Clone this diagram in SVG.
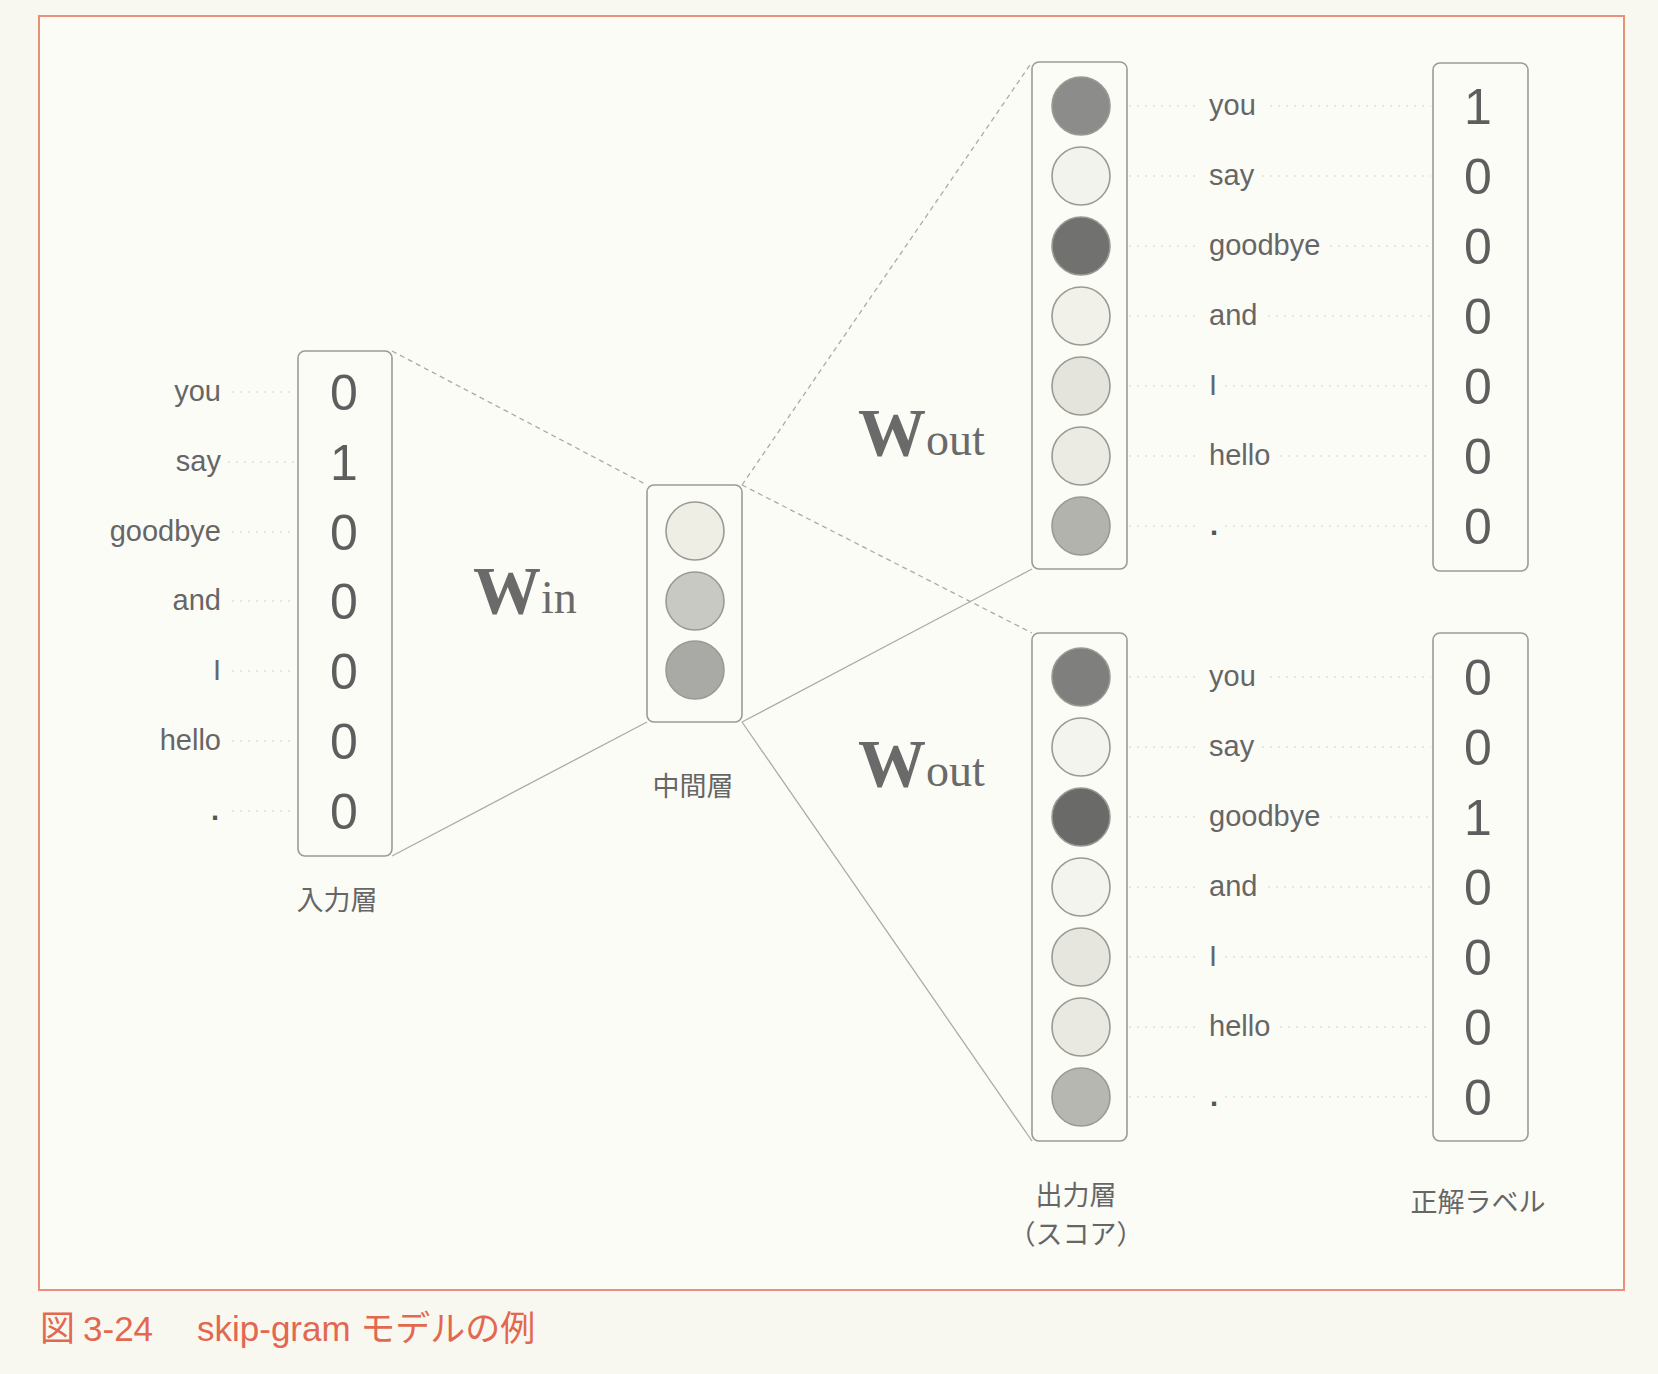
<svg xmlns="http://www.w3.org/2000/svg" width="1658" height="1374" viewBox="0 0 1658 1374">
<style>
.box{fill:none;stroke:#9a9a96;stroke-width:1.6}
.node{stroke:#9a9a94;stroke-width:1.6}
.word{font-family:"Liberation Sans",Arial,sans-serif;font-size:29px;fill:#666}
.wl{text-anchor:end}
.dot{font-weight:bold;fill:#555}
.digit{font-family:"Liberation Sans",Arial,sans-serif;font-size:50px;fill:#5e5e5e;text-anchor:middle}
.jp{font-family:"Noto Sans CJK JP",sans-serif;font-size:27px;fill:#666;text-anchor:middle}
.wbig{font-family:"Liberation Serif",serif;font-weight:bold;font-size:68px;fill:#6a6a6a}
.wsub{font-family:"Liberation Serif",serif;font-size:46px;fill:#6a6a6a}
.lead{stroke:#e0e0d8;stroke-width:1.5;stroke-dasharray:2 6;fill:none}
.conn{stroke:#ababa6;stroke-width:1.3;fill:none}
.dash{stroke-dasharray:5 4}
.cap{font-family:"Liberation Sans","Noto Sans CJK JP",sans-serif;font-size:35px;fill:#e2684f}
</style>
<rect x="0" y="0" width="1658" height="1374" fill="#f8f8f1"/>
<rect x="39" y="16" width="1585" height="1274" fill="#fcfcf7" stroke="#e8907c" stroke-width="2"/>

<g id="leaders">
  <line class="lead" x1="232" y1="392" x2="296" y2="392"/>
  <line class="lead" x1="228" y1="462" x2="296" y2="462"/>
  <line class="lead" x1="232" y1="532" x2="296" y2="532"/>
  <line class="lead" x1="232" y1="601" x2="296" y2="601"/>
  <line class="lead" x1="232" y1="671" x2="296" y2="671"/>
  <line class="lead" x1="232" y1="741" x2="296" y2="741"/>
  <line class="lead" x1="232" y1="811" x2="296" y2="811"/>
  <line class="lead" x1="1129" y1="106" x2="1200" y2="106"/><line class="lead" x1="1270" y1="106" x2="1431" y2="106"/>
  <line class="lead" x1="1129" y1="176" x2="1200" y2="176"/><line class="lead" x1="1262" y1="176" x2="1431" y2="176"/>
  <line class="lead" x1="1129" y1="246" x2="1200" y2="246"/><line class="lead" x1="1330" y1="246" x2="1431" y2="246"/>
  <line class="lead" x1="1129" y1="316" x2="1200" y2="316"/><line class="lead" x1="1268" y1="316" x2="1431" y2="316"/>
  <line class="lead" x1="1129" y1="386" x2="1200" y2="386"/><line class="lead" x1="1225" y1="386" x2="1431" y2="386"/>
  <line class="lead" x1="1129" y1="456" x2="1200" y2="456"/><line class="lead" x1="1280" y1="456" x2="1431" y2="456"/>
  <line class="lead" x1="1129" y1="526" x2="1200" y2="526"/><line class="lead" x1="1225" y1="526" x2="1431" y2="526"/>
  <line class="lead" x1="1129" y1="677" x2="1200" y2="677"/><line class="lead" x1="1270" y1="677" x2="1431" y2="677"/>
  <line class="lead" x1="1129" y1="747" x2="1200" y2="747"/><line class="lead" x1="1262" y1="747" x2="1431" y2="747"/>
  <line class="lead" x1="1129" y1="817" x2="1200" y2="817"/><line class="lead" x1="1330" y1="817" x2="1431" y2="817"/>
  <line class="lead" x1="1129" y1="887" x2="1200" y2="887"/><line class="lead" x1="1268" y1="887" x2="1431" y2="887"/>
  <line class="lead" x1="1129" y1="957" x2="1200" y2="957"/><line class="lead" x1="1225" y1="957" x2="1431" y2="957"/>
  <line class="lead" x1="1129" y1="1027" x2="1200" y2="1027"/><line class="lead" x1="1280" y1="1027" x2="1431" y2="1027"/>
  <line class="lead" x1="1129" y1="1097" x2="1200" y2="1097"/><line class="lead" x1="1225" y1="1097" x2="1431" y2="1097"/>
</g>

<g id="connectors">
  <line class="conn dash" x1="392" y1="351" x2="647" y2="485"/>
  <line class="conn" x1="392" y1="856" x2="647" y2="722"/>
  <line class="conn dash" x1="742" y1="485" x2="1032" y2="62"/>
  <line class="conn dash" x1="742" y1="485" x2="1032" y2="633"/>
  <line class="conn" x1="742" y1="722" x2="1032" y2="569"/>
  <line class="conn" x1="742" y1="722" x2="1032" y2="1141"/>
</g>

<g id="input-layer">
  <rect class="box" x="298" y="351" width="94" height="505" rx="7" fill="#fcfcf7"/>
  <text class="word wl" x="221" y="401">you</text>
  <text class="word wl" x="221" y="471">say</text>
  <text class="word wl" x="221" y="541">goodbye</text>
  <text class="word wl" x="221" y="610">and</text>
  <text class="word wl" x="221" y="680">I</text>
  <text class="word wl" x="221" y="750">hello</text>
  <text class="word wl dot" x="219" y="820">.</text>
  <text class="digit" x="344" y="410">0</text>
  <text class="digit" x="344" y="480">1</text>
  <text class="digit" x="344" y="550">0</text>
  <text class="digit" x="344" y="619">0</text>
  <text class="digit" x="344" y="689">0</text>
  <text class="digit" x="344" y="759">0</text>
  <text class="digit" x="344" y="829">0</text>
  <text class="jp" x="337" y="910">入力層</text>
</g>

<g id="w-in">
  <text x="473" y="613"><tspan class="wbig">W</tspan><tspan class="wsub">in</tspan></text>
</g>

<g id="hidden-layer">
  <rect class="box" x="647" y="485" width="95" height="237" rx="7" fill="#fcfcf7"/>
  <circle class="node" cx="695" cy="531" r="29" fill="#eeeee5"/>
  <circle class="node" cx="695" cy="601" r="29" fill="#c9c9c4"/>
  <circle class="node" cx="695" cy="670" r="29" fill="#a9a9a6"/>
  <text class="jp" x="693" y="796">中間層</text>
</g>

<g id="w-out-top">
  <text x="858" y="455"><tspan class="wbig">W</tspan><tspan class="wsub">out</tspan></text>
</g>
<g id="w-out-bottom">
  <text x="858" y="786"><tspan class="wbig">W</tspan><tspan class="wsub">out</tspan></text>
</g>

<g id="output-top">
  <rect class="box" x="1032" y="62" width="95" height="507" rx="7" fill="#fcfcf7"/>
  <circle class="node" cx="1081" cy="106" r="29" fill="#8c8c8a"/>
  <circle class="node" cx="1081" cy="176" r="29" fill="#f3f3ee"/>
  <circle class="node" cx="1081" cy="246" r="29" fill="#717170"/>
  <circle class="node" cx="1081" cy="316" r="29" fill="#f1f1ea"/>
  <circle class="node" cx="1081" cy="386" r="29" fill="#e4e4dc"/>
  <circle class="node" cx="1081" cy="456" r="29" fill="#ebebe4"/>
  <circle class="node" cx="1081" cy="526" r="29" fill="#b3b3ae"/>
  <text class="word" x="1209" y="115">you</text>
  <text class="word" x="1209" y="185">say</text>
  <text class="word" x="1209" y="255">goodbye</text>
  <text class="word" x="1209" y="325">and</text>
  <text class="word" x="1209" y="395">I</text>
  <text class="word" x="1209" y="465">hello</text>
  <text class="word dot" x="1210" y="535">.</text>
</g>

<g id="output-bottom">
  <rect class="box" x="1032" y="633" width="95" height="508" rx="7" fill="#fcfcf7"/>
  <circle class="node" cx="1081" cy="677" r="29" fill="#7f7f7d"/>
  <circle class="node" cx="1081" cy="747" r="29" fill="#f4f4ef"/>
  <circle class="node" cx="1081" cy="817" r="29" fill="#6a6a69"/>
  <circle class="node" cx="1081" cy="887" r="29" fill="#f4f4ef"/>
  <circle class="node" cx="1081" cy="957" r="29" fill="#e6e6df"/>
  <circle class="node" cx="1081" cy="1027" r="29" fill="#e9e9e2"/>
  <circle class="node" cx="1081" cy="1097" r="29" fill="#b7b7b2"/>
  <text class="word" x="1209" y="686">you</text>
  <text class="word" x="1209" y="756">say</text>
  <text class="word" x="1209" y="826">goodbye</text>
  <text class="word" x="1209" y="896">and</text>
  <text class="word" x="1209" y="966">I</text>
  <text class="word" x="1209" y="1036">hello</text>
  <text class="word dot" x="1210" y="1106">.</text>
  <text class="jp" x="1076" y="1205">出力層</text>
  <text class="jp" x="1076" y="1244">（スコア）</text>
</g>

<g id="label-top">
  <rect class="box" x="1433" y="63" width="95" height="508" rx="7" fill="#fcfcf7"/>
  <text class="digit" x="1478" y="124">1</text>
  <text class="digit" x="1478" y="194">0</text>
  <text class="digit" x="1478" y="264">0</text>
  <text class="digit" x="1478" y="334">0</text>
  <text class="digit" x="1478" y="404">0</text>
  <text class="digit" x="1478" y="474">0</text>
  <text class="digit" x="1478" y="544">0</text>
</g>

<g id="label-bottom">
  <rect class="box" x="1433" y="633" width="95" height="508" rx="7" fill="#fcfcf7"/>
  <text class="digit" x="1478" y="695">0</text>
  <text class="digit" x="1478" y="765">0</text>
  <text class="digit" x="1478" y="835">1</text>
  <text class="digit" x="1478" y="905">0</text>
  <text class="digit" x="1478" y="975">0</text>
  <text class="digit" x="1478" y="1045">0</text>
  <text class="digit" x="1478" y="1115">0</text>
  <text class="jp" x="1478" y="1212">正解ラベル</text>
</g>

<g id="caption">
  <text class="cap" x="40" y="1341">図<tspan dx="8">3-24</tspan></text>
  <text class="cap" x="197" y="1341">skip-gram モデルの例</text>
</g>
</svg>
